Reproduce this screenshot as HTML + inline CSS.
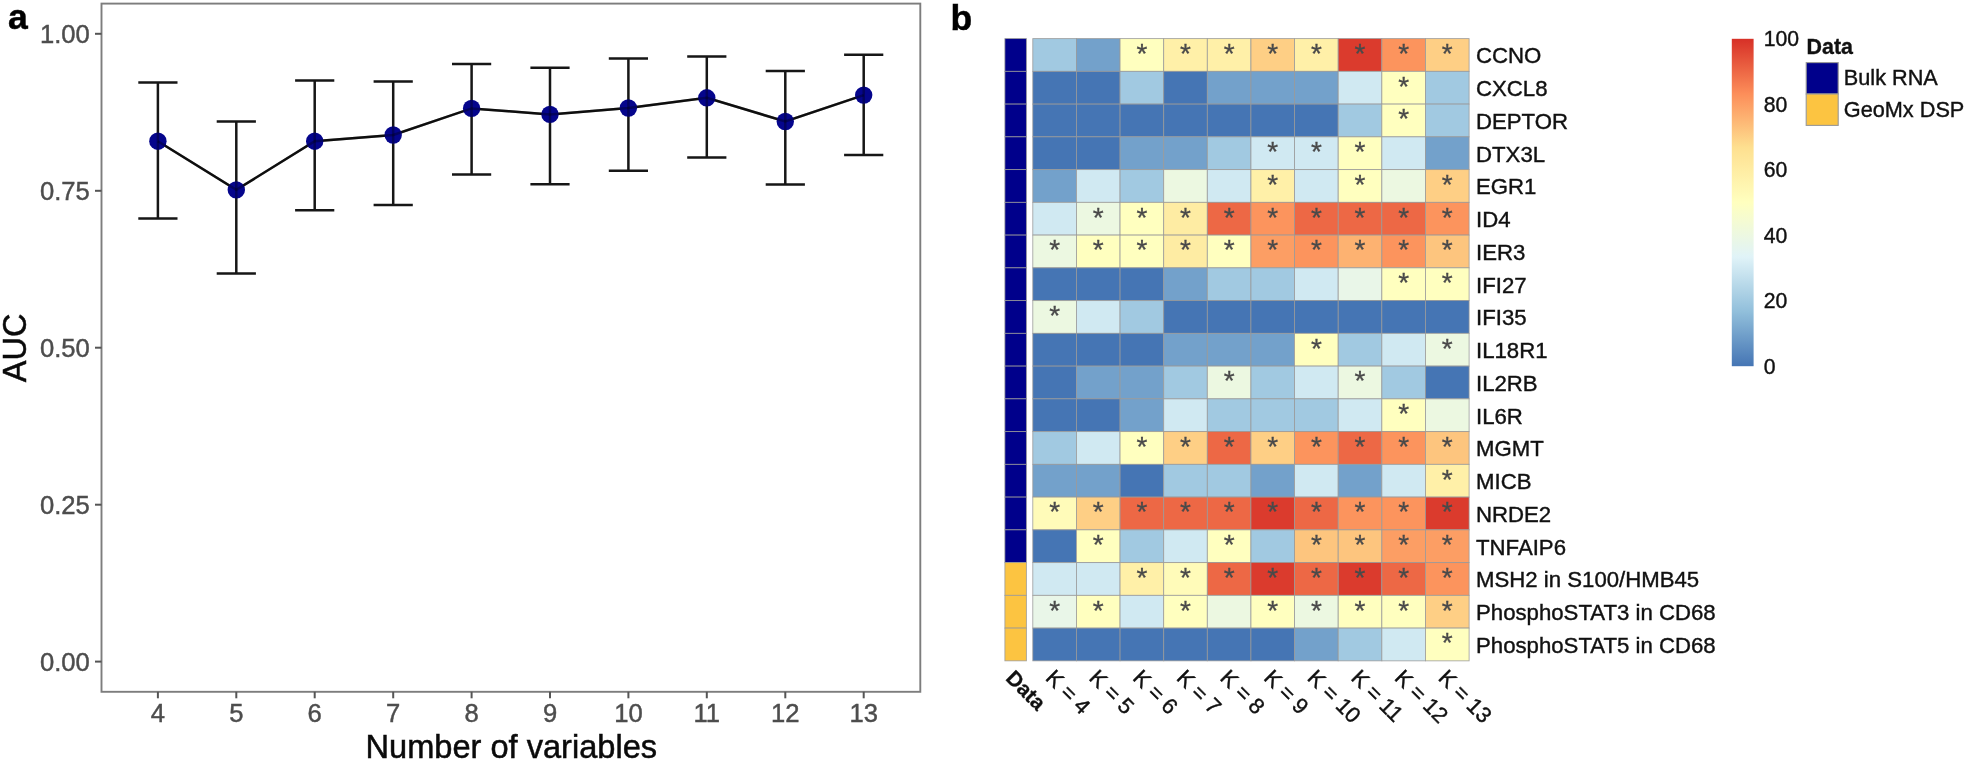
<!DOCTYPE html>
<html lang="en">
<head>
<meta charset="utf-8">
<title>Figure: AUC vs number of variables and variable-selection heatmap</title>
<style>
html,body{margin:0;padding:0;background:#fff;}
body{width:1970px;height:767px;overflow:hidden;font-family:"Liberation Sans",sans-serif;}
svg{display:block;filter:blur(0.55px);}
</style>
</head>
<body>
<svg width="1970" height="767" viewBox="0 0 1970 767" font-family="'Liberation Sans', sans-serif">
<rect x="0" y="0" width="1970" height="767" fill="#fff"/>
<g id="panel-a">
<rect x="101.5" y="3.6" width="818.8" height="688.2" fill="#fff" stroke="#7d7d7d" stroke-width="1.9"/>
<g stroke="#555" stroke-width="2">
<line x1="95.0" x2="101.5" y1="661.6" y2="661.6"/>
<line x1="95.0" x2="101.5" y1="504.7" y2="504.7"/>
<line x1="95.0" x2="101.5" y1="347.7" y2="347.7"/>
<line x1="95.0" x2="101.5" y1="190.8" y2="190.8"/>
<line x1="95.0" x2="101.5" y1="33.8" y2="33.8"/>
<line x1="157.9" x2="157.9" y1="691.8" y2="698.3"/>
<line x1="236.3" x2="236.3" y1="691.8" y2="698.3"/>
<line x1="314.7" x2="314.7" y1="691.8" y2="698.3"/>
<line x1="393.2" x2="393.2" y1="691.8" y2="698.3"/>
<line x1="471.6" x2="471.6" y1="691.8" y2="698.3"/>
<line x1="550.0" x2="550.0" y1="691.8" y2="698.3"/>
<line x1="628.4" x2="628.4" y1="691.8" y2="698.3"/>
<line x1="706.8" x2="706.8" y1="691.8" y2="698.3"/>
<line x1="785.3" x2="785.3" y1="691.8" y2="698.3"/>
<line x1="863.7" x2="863.7" y1="691.8" y2="698.3"/>
</g>
<g fill="#4d4d4d" stroke="#4d4d4d" stroke-width="0.45" font-size="25.6">
<text x="89.8" y="671.0" text-anchor="end">0.00</text>
<text x="89.8" y="514.1" text-anchor="end">0.25</text>
<text x="89.8" y="357.1" text-anchor="end">0.50</text>
<text x="89.8" y="200.2" text-anchor="end">0.75</text>
<text x="89.8" y="43.2" text-anchor="end">1.00</text>
<text x="157.9" y="722.4" text-anchor="middle">4</text>
<text x="236.3" y="722.4" text-anchor="middle">5</text>
<text x="314.7" y="722.4" text-anchor="middle">6</text>
<text x="393.2" y="722.4" text-anchor="middle">7</text>
<text x="471.6" y="722.4" text-anchor="middle">8</text>
<text x="550.0" y="722.4" text-anchor="middle">9</text>
<text x="628.4" y="722.4" text-anchor="middle">10</text>
<text x="706.8" y="722.4" text-anchor="middle">11</text>
<text x="785.3" y="722.4" text-anchor="middle">12</text>
<text x="863.7" y="722.4" text-anchor="middle">13</text>
</g>
<text x="511.3" y="757.6" font-size="32.6" text-anchor="middle" fill="#0a0a0a" stroke="#0a0a0a" stroke-width="0.5">Number of variables</text>
<text transform="translate(25.6,347.9) rotate(-90)" font-size="32.6" text-anchor="middle" fill="#0a0a0a" stroke="#0a0a0a" stroke-width="0.5">AUC</text>
<text x="8" y="28.8" font-size="35.5" font-weight="bold" fill="#000" stroke="#000" stroke-width="0.5">a</text>
<g stroke="#161616" stroke-width="2.5" fill="none">
<polyline points="157.9,141.2 236.3,189.9 314.7,141.2 393.2,135.0 471.6,108.4 550.0,114.4 628.4,108.0 706.8,97.8 785.3,121.5 863.7,95.1"/>
<path d="M138.3 82.4H177.5M157.9 82.4V218.6M138.3 218.6H177.5"/>
<path d="M216.7 121.6H255.9M236.3 121.6V273.4M216.7 273.4H255.9"/>
<path d="M295.1 80.5H334.3M314.7 80.5V210.2M295.1 210.2H334.3"/>
<path d="M373.6 81.5H412.8M393.2 81.5V204.9M373.6 204.9H412.8"/>
<path d="M452.0 64.1H491.2M471.6 64.1V174.5M452.0 174.5H491.2"/>
<path d="M530.4 67.8H569.6M550.0 67.8V184.3M530.4 184.3H569.6"/>
<path d="M608.8 58.5H648.0M628.4 58.5V170.7M608.8 170.7H648.0"/>
<path d="M687.2 56.5H726.4M706.8 56.5V157.4M687.2 157.4H726.4"/>
<path d="M765.7 70.9H804.9M785.3 70.9V184.5M765.7 184.5H804.9"/>
<path d="M844.1 54.7H883.3M863.7 54.7V155.0M844.1 155.0H883.3"/>
</g>
<g fill="#05058C">
<circle cx="157.9" cy="141.2" r="8.7"/>
<circle cx="236.3" cy="189.9" r="8.7"/>
<circle cx="314.7" cy="141.2" r="8.7"/>
<circle cx="393.2" cy="135.0" r="8.7"/>
<circle cx="471.6" cy="108.4" r="8.7"/>
<circle cx="550.0" cy="114.4" r="8.7"/>
<circle cx="628.4" cy="108.0" r="8.7"/>
<circle cx="706.8" cy="97.8" r="8.7"/>
<circle cx="785.3" cy="121.5" r="8.7"/>
<circle cx="863.7" cy="95.1" r="8.7"/>
</g>
<g stroke="#000" stroke-width="2.5" stroke-opacity="0.32" fill="none">
<polyline points="157.9,141.2 236.3,189.9 314.7,141.2 393.2,135.0 471.6,108.4 550.0,114.4 628.4,108.0 706.8,97.8 785.3,121.5 863.7,95.1"/>
<path d="M157.9 132.7V149.7"/>
<path d="M236.3 181.4V198.4"/>
<path d="M314.7 132.7V149.7"/>
<path d="M393.2 126.5V143.5"/>
<path d="M471.6 99.9V116.9"/>
<path d="M550.0 105.9V122.9"/>
<path d="M628.4 99.5V116.5"/>
<path d="M706.8 89.3V106.3"/>
<path d="M785.3 113.0V130.0"/>
<path d="M863.7 86.6V103.6"/>
</g>
</g>
<g id="panel-b">
<text x="950.5" y="29.6" font-size="35.5" font-weight="bold" fill="#000" stroke="#000" stroke-width="0.5">b</text>
<g stroke="#999" stroke-width="0.85" stroke-opacity="0.9">
<rect x="1004.9" y="38.60" width="21.5" height="32.75" fill="#00008B"/>
<rect x="1032.80" y="38.60" width="43.63" height="32.75" fill="#A1C9E1"/>
<rect x="1076.43" y="38.60" width="43.63" height="32.75" fill="#73A1CB"/>
<rect x="1120.06" y="38.60" width="43.63" height="32.75" fill="#FFFFBF"/>
<rect x="1163.69" y="38.60" width="43.63" height="32.75" fill="#FFF0A8"/>
<rect x="1207.32" y="38.60" width="43.63" height="32.75" fill="#FFF0A8"/>
<rect x="1250.95" y="38.60" width="43.63" height="32.75" fill="#FECF85"/>
<rect x="1294.58" y="38.60" width="43.63" height="32.75" fill="#FFF0A8"/>
<rect x="1338.21" y="38.60" width="43.63" height="32.75" fill="#DB3B2D"/>
<rect x="1381.84" y="38.60" width="43.63" height="32.75" fill="#FC945D"/>
<rect x="1425.47" y="38.60" width="43.63" height="32.75" fill="#FECF85"/>
<rect x="1004.9" y="71.35" width="21.5" height="32.75" fill="#00008B"/>
<rect x="1032.80" y="71.35" width="43.63" height="32.75" fill="#4575B4"/>
<rect x="1076.43" y="71.35" width="43.63" height="32.75" fill="#4575B4"/>
<rect x="1120.06" y="71.35" width="43.63" height="32.75" fill="#A1C9E1"/>
<rect x="1163.69" y="71.35" width="43.63" height="32.75" fill="#4575B4"/>
<rect x="1207.32" y="71.35" width="43.63" height="32.75" fill="#73A1CB"/>
<rect x="1250.95" y="71.35" width="43.63" height="32.75" fill="#73A1CB"/>
<rect x="1294.58" y="71.35" width="43.63" height="32.75" fill="#73A1CB"/>
<rect x="1338.21" y="71.35" width="43.63" height="32.75" fill="#D0E9F2"/>
<rect x="1381.84" y="71.35" width="43.63" height="32.75" fill="#FFFFBF"/>
<rect x="1425.47" y="71.35" width="43.63" height="32.75" fill="#A1C9E1"/>
<rect x="1004.9" y="104.10" width="21.5" height="32.75" fill="#00008B"/>
<rect x="1032.80" y="104.10" width="43.63" height="32.75" fill="#4575B4"/>
<rect x="1076.43" y="104.10" width="43.63" height="32.75" fill="#4575B4"/>
<rect x="1120.06" y="104.10" width="43.63" height="32.75" fill="#4575B4"/>
<rect x="1163.69" y="104.10" width="43.63" height="32.75" fill="#4575B4"/>
<rect x="1207.32" y="104.10" width="43.63" height="32.75" fill="#4575B4"/>
<rect x="1250.95" y="104.10" width="43.63" height="32.75" fill="#4575B4"/>
<rect x="1294.58" y="104.10" width="43.63" height="32.75" fill="#4575B4"/>
<rect x="1338.21" y="104.10" width="43.63" height="32.75" fill="#A1C9E1"/>
<rect x="1381.84" y="104.10" width="43.63" height="32.75" fill="#FFFFBF"/>
<rect x="1425.47" y="104.10" width="43.63" height="32.75" fill="#A1C9E1"/>
<rect x="1004.9" y="136.85" width="21.5" height="32.75" fill="#00008B"/>
<rect x="1032.80" y="136.85" width="43.63" height="32.75" fill="#4575B4"/>
<rect x="1076.43" y="136.85" width="43.63" height="32.75" fill="#4575B4"/>
<rect x="1120.06" y="136.85" width="43.63" height="32.75" fill="#73A1CB"/>
<rect x="1163.69" y="136.85" width="43.63" height="32.75" fill="#73A1CB"/>
<rect x="1207.32" y="136.85" width="43.63" height="32.75" fill="#A1C9E1"/>
<rect x="1250.95" y="136.85" width="43.63" height="32.75" fill="#D0E9F2"/>
<rect x="1294.58" y="136.85" width="43.63" height="32.75" fill="#D0E9F2"/>
<rect x="1338.21" y="136.85" width="43.63" height="32.75" fill="#FFFFBF"/>
<rect x="1381.84" y="136.85" width="43.63" height="32.75" fill="#D0E9F2"/>
<rect x="1425.47" y="136.85" width="43.63" height="32.75" fill="#73A1CB"/>
<rect x="1004.9" y="169.60" width="21.5" height="32.75" fill="#00008B"/>
<rect x="1032.80" y="169.60" width="43.63" height="32.75" fill="#73A1CB"/>
<rect x="1076.43" y="169.60" width="43.63" height="32.75" fill="#D0E9F2"/>
<rect x="1120.06" y="169.60" width="43.63" height="32.75" fill="#A1C9E1"/>
<rect x="1163.69" y="169.60" width="43.63" height="32.75" fill="#ECF8E1"/>
<rect x="1207.32" y="169.60" width="43.63" height="32.75" fill="#D0E9F2"/>
<rect x="1250.95" y="169.60" width="43.63" height="32.75" fill="#FFF0A8"/>
<rect x="1294.58" y="169.60" width="43.63" height="32.75" fill="#D0E9F2"/>
<rect x="1338.21" y="169.60" width="43.63" height="32.75" fill="#FFFFBF"/>
<rect x="1381.84" y="169.60" width="43.63" height="32.75" fill="#ECF8E1"/>
<rect x="1425.47" y="169.60" width="43.63" height="32.75" fill="#FECF85"/>
<rect x="1004.9" y="202.35" width="21.5" height="32.75" fill="#00008B"/>
<rect x="1032.80" y="202.35" width="43.63" height="32.75" fill="#D0E9F2"/>
<rect x="1076.43" y="202.35" width="43.63" height="32.75" fill="#ECF8E1"/>
<rect x="1120.06" y="202.35" width="43.63" height="32.75" fill="#FFFFBF"/>
<rect x="1163.69" y="202.35" width="43.63" height="32.75" fill="#FEECA3"/>
<rect x="1207.32" y="202.35" width="43.63" height="32.75" fill="#ED6845"/>
<rect x="1250.95" y="202.35" width="43.63" height="32.75" fill="#FC945D"/>
<rect x="1294.58" y="202.35" width="43.63" height="32.75" fill="#ED6845"/>
<rect x="1338.21" y="202.35" width="43.63" height="32.75" fill="#ED6845"/>
<rect x="1381.84" y="202.35" width="43.63" height="32.75" fill="#ED6845"/>
<rect x="1425.47" y="202.35" width="43.63" height="32.75" fill="#FC945D"/>
<rect x="1004.9" y="235.10" width="21.5" height="32.75" fill="#00008B"/>
<rect x="1032.80" y="235.10" width="43.63" height="32.75" fill="#ECF8E1"/>
<rect x="1076.43" y="235.10" width="43.63" height="32.75" fill="#FFFFBF"/>
<rect x="1120.06" y="235.10" width="43.63" height="32.75" fill="#FFFFBF"/>
<rect x="1163.69" y="235.10" width="43.63" height="32.75" fill="#FEECA3"/>
<rect x="1207.32" y="235.10" width="43.63" height="32.75" fill="#FFFFBF"/>
<rect x="1250.95" y="235.10" width="43.63" height="32.75" fill="#FC9E64"/>
<rect x="1294.58" y="235.10" width="43.63" height="32.75" fill="#FC945D"/>
<rect x="1338.21" y="235.10" width="43.63" height="32.75" fill="#FDB271"/>
<rect x="1381.84" y="235.10" width="43.63" height="32.75" fill="#FC945D"/>
<rect x="1425.47" y="235.10" width="43.63" height="32.75" fill="#FDC57E"/>
<rect x="1004.9" y="267.85" width="21.5" height="32.75" fill="#00008B"/>
<rect x="1032.80" y="267.85" width="43.63" height="32.75" fill="#4575B4"/>
<rect x="1076.43" y="267.85" width="43.63" height="32.75" fill="#4575B4"/>
<rect x="1120.06" y="267.85" width="43.63" height="32.75" fill="#4575B4"/>
<rect x="1163.69" y="267.85" width="43.63" height="32.75" fill="#73A1CB"/>
<rect x="1207.32" y="267.85" width="43.63" height="32.75" fill="#A1C9E1"/>
<rect x="1250.95" y="267.85" width="43.63" height="32.75" fill="#A1C9E1"/>
<rect x="1294.58" y="267.85" width="43.63" height="32.75" fill="#D0E9F2"/>
<rect x="1338.21" y="267.85" width="43.63" height="32.75" fill="#E9F6E8"/>
<rect x="1381.84" y="267.85" width="43.63" height="32.75" fill="#FFFFBF"/>
<rect x="1425.47" y="267.85" width="43.63" height="32.75" fill="#FFFFBF"/>
<rect x="1004.9" y="300.60" width="21.5" height="32.75" fill="#00008B"/>
<rect x="1032.80" y="300.60" width="43.63" height="32.75" fill="#ECF8E1"/>
<rect x="1076.43" y="300.60" width="43.63" height="32.75" fill="#D0E9F2"/>
<rect x="1120.06" y="300.60" width="43.63" height="32.75" fill="#A1C9E1"/>
<rect x="1163.69" y="300.60" width="43.63" height="32.75" fill="#4575B4"/>
<rect x="1207.32" y="300.60" width="43.63" height="32.75" fill="#4575B4"/>
<rect x="1250.95" y="300.60" width="43.63" height="32.75" fill="#4575B4"/>
<rect x="1294.58" y="300.60" width="43.63" height="32.75" fill="#4575B4"/>
<rect x="1338.21" y="300.60" width="43.63" height="32.75" fill="#4575B4"/>
<rect x="1381.84" y="300.60" width="43.63" height="32.75" fill="#4575B4"/>
<rect x="1425.47" y="300.60" width="43.63" height="32.75" fill="#4575B4"/>
<rect x="1004.9" y="333.35" width="21.5" height="32.75" fill="#00008B"/>
<rect x="1032.80" y="333.35" width="43.63" height="32.75" fill="#4575B4"/>
<rect x="1076.43" y="333.35" width="43.63" height="32.75" fill="#4575B4"/>
<rect x="1120.06" y="333.35" width="43.63" height="32.75" fill="#4575B4"/>
<rect x="1163.69" y="333.35" width="43.63" height="32.75" fill="#73A1CB"/>
<rect x="1207.32" y="333.35" width="43.63" height="32.75" fill="#73A1CB"/>
<rect x="1250.95" y="333.35" width="43.63" height="32.75" fill="#73A1CB"/>
<rect x="1294.58" y="333.35" width="43.63" height="32.75" fill="#FFFFBF"/>
<rect x="1338.21" y="333.35" width="43.63" height="32.75" fill="#A1C9E1"/>
<rect x="1381.84" y="333.35" width="43.63" height="32.75" fill="#D0E9F2"/>
<rect x="1425.47" y="333.35" width="43.63" height="32.75" fill="#ECF8E1"/>
<rect x="1004.9" y="366.10" width="21.5" height="32.75" fill="#00008B"/>
<rect x="1032.80" y="366.10" width="43.63" height="32.75" fill="#4575B4"/>
<rect x="1076.43" y="366.10" width="43.63" height="32.75" fill="#73A1CB"/>
<rect x="1120.06" y="366.10" width="43.63" height="32.75" fill="#73A1CB"/>
<rect x="1163.69" y="366.10" width="43.63" height="32.75" fill="#A1C9E1"/>
<rect x="1207.32" y="366.10" width="43.63" height="32.75" fill="#ECF8E1"/>
<rect x="1250.95" y="366.10" width="43.63" height="32.75" fill="#A1C9E1"/>
<rect x="1294.58" y="366.10" width="43.63" height="32.75" fill="#D0E9F2"/>
<rect x="1338.21" y="366.10" width="43.63" height="32.75" fill="#ECF8E1"/>
<rect x="1381.84" y="366.10" width="43.63" height="32.75" fill="#A1C9E1"/>
<rect x="1425.47" y="366.10" width="43.63" height="32.75" fill="#4575B4"/>
<rect x="1004.9" y="398.85" width="21.5" height="32.75" fill="#00008B"/>
<rect x="1032.80" y="398.85" width="43.63" height="32.75" fill="#4575B4"/>
<rect x="1076.43" y="398.85" width="43.63" height="32.75" fill="#4575B4"/>
<rect x="1120.06" y="398.85" width="43.63" height="32.75" fill="#73A1CB"/>
<rect x="1163.69" y="398.85" width="43.63" height="32.75" fill="#D0E9F2"/>
<rect x="1207.32" y="398.85" width="43.63" height="32.75" fill="#A1C9E1"/>
<rect x="1250.95" y="398.85" width="43.63" height="32.75" fill="#A1C9E1"/>
<rect x="1294.58" y="398.85" width="43.63" height="32.75" fill="#A1C9E1"/>
<rect x="1338.21" y="398.85" width="43.63" height="32.75" fill="#D0E9F2"/>
<rect x="1381.84" y="398.85" width="43.63" height="32.75" fill="#FFFFBF"/>
<rect x="1425.47" y="398.85" width="43.63" height="32.75" fill="#ECF8E1"/>
<rect x="1004.9" y="431.60" width="21.5" height="32.75" fill="#00008B"/>
<rect x="1032.80" y="431.60" width="43.63" height="32.75" fill="#A1C9E1"/>
<rect x="1076.43" y="431.60" width="43.63" height="32.75" fill="#D0E9F2"/>
<rect x="1120.06" y="431.60" width="43.63" height="32.75" fill="#FFFFBF"/>
<rect x="1163.69" y="431.60" width="43.63" height="32.75" fill="#FECF85"/>
<rect x="1207.32" y="431.60" width="43.63" height="32.75" fill="#ED6845"/>
<rect x="1250.95" y="431.60" width="43.63" height="32.75" fill="#FECF85"/>
<rect x="1294.58" y="431.60" width="43.63" height="32.75" fill="#FC945D"/>
<rect x="1338.21" y="431.60" width="43.63" height="32.75" fill="#ED6845"/>
<rect x="1381.84" y="431.60" width="43.63" height="32.75" fill="#FC945D"/>
<rect x="1425.47" y="431.60" width="43.63" height="32.75" fill="#FDC57E"/>
<rect x="1004.9" y="464.35" width="21.5" height="32.75" fill="#00008B"/>
<rect x="1032.80" y="464.35" width="43.63" height="32.75" fill="#73A1CB"/>
<rect x="1076.43" y="464.35" width="43.63" height="32.75" fill="#73A1CB"/>
<rect x="1120.06" y="464.35" width="43.63" height="32.75" fill="#4575B4"/>
<rect x="1163.69" y="464.35" width="43.63" height="32.75" fill="#A1C9E1"/>
<rect x="1207.32" y="464.35" width="43.63" height="32.75" fill="#A1C9E1"/>
<rect x="1250.95" y="464.35" width="43.63" height="32.75" fill="#73A1CB"/>
<rect x="1294.58" y="464.35" width="43.63" height="32.75" fill="#D0E9F2"/>
<rect x="1338.21" y="464.35" width="43.63" height="32.75" fill="#73A1CB"/>
<rect x="1381.84" y="464.35" width="43.63" height="32.75" fill="#D0E9F2"/>
<rect x="1425.47" y="464.35" width="43.63" height="32.75" fill="#FFF0A8"/>
<rect x="1004.9" y="497.10" width="21.5" height="32.75" fill="#00008B"/>
<rect x="1032.80" y="497.10" width="43.63" height="32.75" fill="#FFFBB9"/>
<rect x="1076.43" y="497.10" width="43.63" height="32.75" fill="#FECF85"/>
<rect x="1120.06" y="497.10" width="43.63" height="32.75" fill="#ED6845"/>
<rect x="1163.69" y="497.10" width="43.63" height="32.75" fill="#ED6845"/>
<rect x="1207.32" y="497.10" width="43.63" height="32.75" fill="#ED6845"/>
<rect x="1250.95" y="497.10" width="43.63" height="32.75" fill="#DB3B2D"/>
<rect x="1294.58" y="497.10" width="43.63" height="32.75" fill="#ED6845"/>
<rect x="1338.21" y="497.10" width="43.63" height="32.75" fill="#FC945D"/>
<rect x="1381.84" y="497.10" width="43.63" height="32.75" fill="#FC945D"/>
<rect x="1425.47" y="497.10" width="43.63" height="32.75" fill="#DB3B2D"/>
<rect x="1004.9" y="529.85" width="21.5" height="32.75" fill="#00008B"/>
<rect x="1032.80" y="529.85" width="43.63" height="32.75" fill="#4575B4"/>
<rect x="1076.43" y="529.85" width="43.63" height="32.75" fill="#FFFFBF"/>
<rect x="1120.06" y="529.85" width="43.63" height="32.75" fill="#A1C9E1"/>
<rect x="1163.69" y="529.85" width="43.63" height="32.75" fill="#D0E9F2"/>
<rect x="1207.32" y="529.85" width="43.63" height="32.75" fill="#FFFFBF"/>
<rect x="1250.95" y="529.85" width="43.63" height="32.75" fill="#A1C9E1"/>
<rect x="1294.58" y="529.85" width="43.63" height="32.75" fill="#FDC57E"/>
<rect x="1338.21" y="529.85" width="43.63" height="32.75" fill="#FDC57E"/>
<rect x="1381.84" y="529.85" width="43.63" height="32.75" fill="#FC9E64"/>
<rect x="1425.47" y="529.85" width="43.63" height="32.75" fill="#FC9E64"/>
<rect x="1004.9" y="562.60" width="21.5" height="32.75" fill="#FCC441"/>
<rect x="1032.80" y="562.60" width="43.63" height="32.75" fill="#D0E9F2"/>
<rect x="1076.43" y="562.60" width="43.63" height="32.75" fill="#D0E9F2"/>
<rect x="1120.06" y="562.60" width="43.63" height="32.75" fill="#FFF0A8"/>
<rect x="1163.69" y="562.60" width="43.63" height="32.75" fill="#FFFBB9"/>
<rect x="1207.32" y="562.60" width="43.63" height="32.75" fill="#ED6845"/>
<rect x="1250.95" y="562.60" width="43.63" height="32.75" fill="#DB3B2D"/>
<rect x="1294.58" y="562.60" width="43.63" height="32.75" fill="#ED6845"/>
<rect x="1338.21" y="562.60" width="43.63" height="32.75" fill="#DB3B2D"/>
<rect x="1381.84" y="562.60" width="43.63" height="32.75" fill="#ED6845"/>
<rect x="1425.47" y="562.60" width="43.63" height="32.75" fill="#FC945D"/>
<rect x="1004.9" y="595.35" width="21.5" height="32.75" fill="#FCC441"/>
<rect x="1032.80" y="595.35" width="43.63" height="32.75" fill="#E9F6E8"/>
<rect x="1076.43" y="595.35" width="43.63" height="32.75" fill="#FFFFBF"/>
<rect x="1120.06" y="595.35" width="43.63" height="32.75" fill="#D0E9F2"/>
<rect x="1163.69" y="595.35" width="43.63" height="32.75" fill="#FFFFBF"/>
<rect x="1207.32" y="595.35" width="43.63" height="32.75" fill="#ECF8E1"/>
<rect x="1250.95" y="595.35" width="43.63" height="32.75" fill="#FFFFBF"/>
<rect x="1294.58" y="595.35" width="43.63" height="32.75" fill="#ECF8E1"/>
<rect x="1338.21" y="595.35" width="43.63" height="32.75" fill="#FFFFBF"/>
<rect x="1381.84" y="595.35" width="43.63" height="32.75" fill="#FFFFBF"/>
<rect x="1425.47" y="595.35" width="43.63" height="32.75" fill="#FECF85"/>
<rect x="1004.9" y="628.10" width="21.5" height="32.75" fill="#FCC441"/>
<rect x="1032.80" y="628.10" width="43.63" height="32.75" fill="#4575B4"/>
<rect x="1076.43" y="628.10" width="43.63" height="32.75" fill="#4575B4"/>
<rect x="1120.06" y="628.10" width="43.63" height="32.75" fill="#4575B4"/>
<rect x="1163.69" y="628.10" width="43.63" height="32.75" fill="#4575B4"/>
<rect x="1207.32" y="628.10" width="43.63" height="32.75" fill="#4575B4"/>
<rect x="1250.95" y="628.10" width="43.63" height="32.75" fill="#4575B4"/>
<rect x="1294.58" y="628.10" width="43.63" height="32.75" fill="#73A1CB"/>
<rect x="1338.21" y="628.10" width="43.63" height="32.75" fill="#A1C9E1"/>
<rect x="1381.84" y="628.10" width="43.63" height="32.75" fill="#D0E9F2"/>
<rect x="1425.47" y="628.10" width="43.63" height="32.75" fill="#FFFFBF"/>
</g>
<g fill="#4a4a4a" stroke="#4a4a4a" stroke-width="0.3" font-size="28" text-anchor="middle">
<text x="1141.9" y="62.8">*</text>
<text x="1185.5" y="62.8">*</text>
<text x="1229.1" y="62.8">*</text>
<text x="1272.8" y="62.8">*</text>
<text x="1316.4" y="62.8">*</text>
<text x="1360.0" y="62.8">*</text>
<text x="1403.7" y="62.8">*</text>
<text x="1447.3" y="62.8">*</text>
<text x="1403.7" y="95.5">*</text>
<text x="1403.7" y="128.3">*</text>
<text x="1272.8" y="161.0">*</text>
<text x="1316.4" y="161.0">*</text>
<text x="1360.0" y="161.0">*</text>
<text x="1272.8" y="193.8">*</text>
<text x="1360.0" y="193.8">*</text>
<text x="1447.3" y="193.8">*</text>
<text x="1098.2" y="226.5">*</text>
<text x="1141.9" y="226.5">*</text>
<text x="1185.5" y="226.5">*</text>
<text x="1229.1" y="226.5">*</text>
<text x="1272.8" y="226.5">*</text>
<text x="1316.4" y="226.5">*</text>
<text x="1360.0" y="226.5">*</text>
<text x="1403.7" y="226.5">*</text>
<text x="1447.3" y="226.5">*</text>
<text x="1054.6" y="259.3">*</text>
<text x="1098.2" y="259.3">*</text>
<text x="1141.9" y="259.3">*</text>
<text x="1185.5" y="259.3">*</text>
<text x="1229.1" y="259.3">*</text>
<text x="1272.8" y="259.3">*</text>
<text x="1316.4" y="259.3">*</text>
<text x="1360.0" y="259.3">*</text>
<text x="1403.7" y="259.3">*</text>
<text x="1447.3" y="259.3">*</text>
<text x="1403.7" y="292.1">*</text>
<text x="1447.3" y="292.1">*</text>
<text x="1054.6" y="324.8">*</text>
<text x="1316.4" y="357.6">*</text>
<text x="1447.3" y="357.6">*</text>
<text x="1229.1" y="390.3">*</text>
<text x="1360.0" y="390.3">*</text>
<text x="1403.7" y="423.1">*</text>
<text x="1141.9" y="455.8">*</text>
<text x="1185.5" y="455.8">*</text>
<text x="1229.1" y="455.8">*</text>
<text x="1272.8" y="455.8">*</text>
<text x="1316.4" y="455.8">*</text>
<text x="1360.0" y="455.8">*</text>
<text x="1403.7" y="455.8">*</text>
<text x="1447.3" y="455.8">*</text>
<text x="1447.3" y="488.6">*</text>
<text x="1054.6" y="521.3">*</text>
<text x="1098.2" y="521.3">*</text>
<text x="1141.9" y="521.3">*</text>
<text x="1185.5" y="521.3">*</text>
<text x="1229.1" y="521.3">*</text>
<text x="1272.8" y="521.3">*</text>
<text x="1316.4" y="521.3">*</text>
<text x="1360.0" y="521.3">*</text>
<text x="1403.7" y="521.3">*</text>
<text x="1447.3" y="521.3">*</text>
<text x="1098.2" y="554.1">*</text>
<text x="1229.1" y="554.1">*</text>
<text x="1316.4" y="554.1">*</text>
<text x="1360.0" y="554.1">*</text>
<text x="1403.7" y="554.1">*</text>
<text x="1447.3" y="554.1">*</text>
<text x="1141.9" y="586.8">*</text>
<text x="1185.5" y="586.8">*</text>
<text x="1229.1" y="586.8">*</text>
<text x="1272.8" y="586.8">*</text>
<text x="1316.4" y="586.8">*</text>
<text x="1360.0" y="586.8">*</text>
<text x="1403.7" y="586.8">*</text>
<text x="1447.3" y="586.8">*</text>
<text x="1054.6" y="619.6">*</text>
<text x="1098.2" y="619.6">*</text>
<text x="1185.5" y="619.6">*</text>
<text x="1272.8" y="619.6">*</text>
<text x="1316.4" y="619.6">*</text>
<text x="1360.0" y="619.6">*</text>
<text x="1403.7" y="619.6">*</text>
<text x="1447.3" y="619.6">*</text>
<text x="1447.3" y="652.3">*</text>
</g>
<g fill="#111" stroke="#111" stroke-width="0.4" font-size="22.2">
<text x="1476" y="63.3">CCNO</text>
<text x="1476" y="96.0">CXCL8</text>
<text x="1476" y="128.8">DEPTOR</text>
<text x="1476" y="161.5">DTX3L</text>
<text x="1476" y="194.3">EGR1</text>
<text x="1476" y="227.0">ID4</text>
<text x="1476" y="259.8">IER3</text>
<text x="1476" y="292.5">IFI27</text>
<text x="1476" y="325.3">IFI35</text>
<text x="1476" y="358.0">IL18R1</text>
<text x="1476" y="390.8">IL2RB</text>
<text x="1476" y="423.5">IL6R</text>
<text x="1476" y="456.3">MGMT</text>
<text x="1476" y="489.0">MICB</text>
<text x="1476" y="521.8">NRDE2</text>
<text x="1476" y="554.5">TNFAIP6</text>
<text x="1476" y="587.3">MSH2 in S100/HMB45</text>
<text x="1476" y="620.0">PhosphoSTAT3 in CD68</text>
<text x="1476" y="652.8">PhosphoSTAT5 in CD68</text>
</g>
<g fill="#111" stroke="#111" stroke-width="0.4" font-size="22">
<text transform="translate(1004.8,679.2) rotate(45)" font-weight="bold" font-size="21" stroke-width="0.3">Data</text>
<text transform="translate(1044.5,679) rotate(45)">K = 4</text>
<text transform="translate(1088.1,679) rotate(45)">K = 5</text>
<text transform="translate(1131.8,679) rotate(45)">K = 6</text>
<text transform="translate(1175.4,679) rotate(45)">K = 7</text>
<text transform="translate(1219.0,679) rotate(45)">K = 8</text>
<text transform="translate(1262.7,679) rotate(45)">K = 9</text>
<text transform="translate(1306.3,679) rotate(45)">K = 10</text>
<text transform="translate(1349.9,679) rotate(45)">K = 11</text>
<text transform="translate(1393.6,679) rotate(45)">K = 12</text>
<text transform="translate(1437.2,679) rotate(45)">K = 13</text>
</g>
<defs><linearGradient id="cb" x1="0" y1="1" x2="0" y2="0">
<stop offset="0.0000" stop-color="#4575B4"/>
<stop offset="0.1667" stop-color="#91BFDB"/>
<stop offset="0.3333" stop-color="#E0F3F8"/>
<stop offset="0.5000" stop-color="#FFFFBF"/>
<stop offset="0.6667" stop-color="#FEE090"/>
<stop offset="0.8333" stop-color="#FC8D59"/>
<stop offset="1.0000" stop-color="#D73027"/>
</linearGradient></defs>
<rect x="1731.8" y="38.8" width="21.8" height="327.4" fill="url(#cb)"/>
<g fill="#111" stroke="#111" stroke-width="0.4" font-size="21.2">
<text x="1763.8" y="373.5">0</text>
<text x="1763.8" y="308.0">20</text>
<text x="1763.8" y="242.5">40</text>
<text x="1763.8" y="177.1">60</text>
<text x="1763.8" y="111.6">80</text>
<text x="1763.8" y="46.1">100</text>
</g>
<text x="1806.6" y="53.8" font-size="21.4" font-weight="bold" fill="#111" stroke="#111" stroke-width="0.35">Data</text>
<g stroke="#999" stroke-width="1.1">
<rect x="1806.2" y="62.6" width="32" height="31.4" fill="#00008B"/>
<rect x="1806.2" y="94.0" width="32" height="31.4" fill="#FCC441"/>
</g>
<g fill="#111" stroke="#111" stroke-width="0.4" font-size="21.7"><text x="1843.8" y="85.2">Bulk RNA</text><text x="1843.8" y="116.7">GeoMx DSP</text></g>
</g>
</svg>
</body>
</html>
